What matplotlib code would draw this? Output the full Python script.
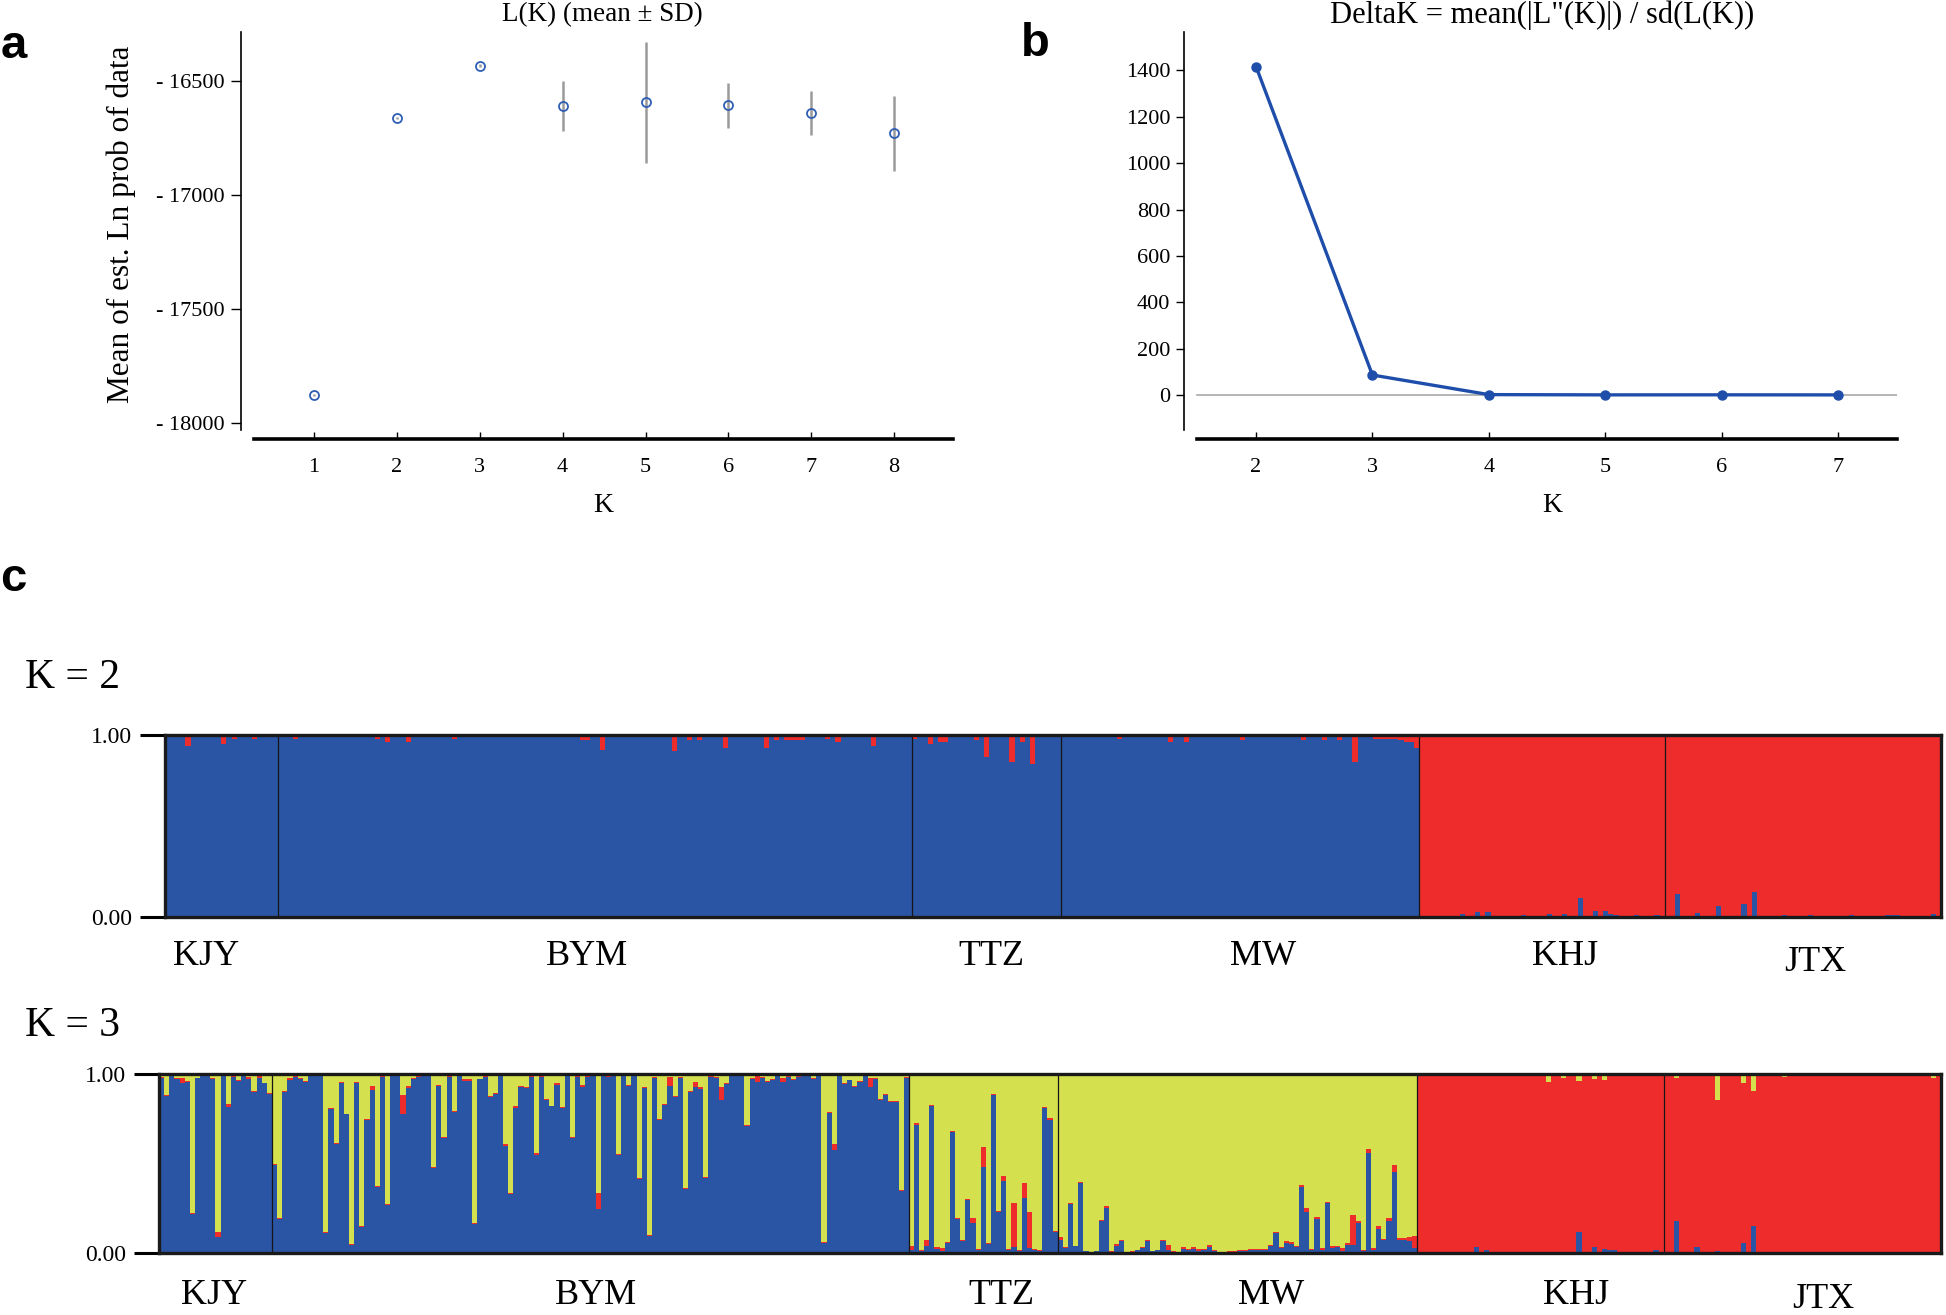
import numpy as np
import matplotlib.pyplot as plt

plt.rcParams['font.family'] = ['Liberation Serif', 'DejaVu Serif']

W, H = 1946, 1315

# ---- panel a: L(K) mean +- SD
k_vals = [1, 2, 3, 4, 5, 6, 7, 8]
lnp_mean = [-17877, -16663, -16434, -16611, -16595, -16608, -16642, -16731]
lnp_sd = [4, 5, 5, 110, 265, 98, 98, 164]

# ---- panel b: DeltaK
dk_k = [2, 3, 4, 5, 6, 7]
dk_vals = [1417, 86, 1.5, 0.4, 0.6, 0.3]

# ---- panel c: STRUCTURE membership (one value per individual)
pops = ['KJY', 'BYM', 'TTZ', 'MW', 'KHJ', 'JTX']

# K = 2, blue cluster share
k2_blue_kjy = [.99, .99, .99, .99, .94, .99, .99, .99, .99, .99, .99, .95, .99, .98, .99, .99, .99, .98, .99, .99, .99, .99]
k2_blue_bym = [.99, .99, .99, .98, .99, .99, .99, .99, .99, .99,
               .99, .99, .99, .99, .99, .99, .99, .99, .99, .98,
               .99, .96, .99, .99, .99, .96, .99, .99, .99, .99,
               .99, .99, .99, .99, .98, .99, .99, .99, .99, .99,
               .99, .99, .99, .99, .99, .99, .99, .99, .99, .99,
               .99, .99, .99, .99, .99, .99, .99, .99, .99, .97,
               .97, .99, .99, .92, .99, .99, .99, .99, .99, .99,
               .99, .99, .99, .99, .99, .99, .99, .91, .99, .99,
               .97, .99, .97, .99, .99, .99, .99, .93, .99, .99,
               .99, .99, .99, .99, .99, .93, .99, .97, .99, .97,
               .97, .97, .97, .99, .99, .99, .99, .98, .99, .96,
               .99, .99, .99, .99, .99, .99, .94, .99, .99, .99,
               .99, .99, .99, .99]
k2_blue_ttz = [.98, .99, .99, .95, .99, .96, .96, .99, .99, .99, .99, .99, .97, .99, .88,
               .99, .99, .99, .99, .85, .99, .96, .99, .84, .99, .99, .99, .99, .99]
k2_blue_mw = [.99, .99, .99, .99, .99, .99, .99, .99, .99, .99,
              .99, .98, .99, .99, .99, .99, .99, .99, .99, .99,
              .99, .96, .99, .99, .96, .99, .99, .99, .99, .99,
              .99, .99, .99, .99, .99, .97, .99, .99, .99, .99,
              .99, .99, .99, .99, .99, .99, .99, .97, .99, .99,
              .99, .97, .99, .99, .97, .99, .99, .85, .99, .99,
              .99, .98, .98, .98, .98, .98, .97, .96, .96, .93]
k2_blue_khj = [.005, .005, .005, .005, .005, .005, .005, .005, .015, .005,
               .005, .028, .005, .025, .005, .005, .005, .005, .005, .005,
               .012, .005, .005, .005, .005, .015, .005, .005, .017, .005,
               .005, .104, .005, .005, .033, .005, .033, .015, .01, .005,
               .005, .005, .01, .005, .005, .005, .012, .005]
k2_blue_jtx = [.005, .005, .126, .005, .005, .005, .024, .005, .005, .005,
               .06, .005, .005, .005, .005, .07, .005, .14, .005, .005,
               .005, .005, .005, .012, .005, .005, .005, .005, .01, .005,
               .005, .005, .005, .005, .005, .005, .01, .005, .005, .005,
               .005, .005, .005, .012, .012, .01, .005, .005, .005, .005,
               .005, .005, .018, .005]

# K = 3, blue and red shares (yellow is the rest)
k3_blue_kjy = [.975, .876, .99, .97, .947, .957, .216, .975, .99, .99, .97, .09, .99, .816, .985,
               .96, .99, .97, .90, .98, .947, .89]
k3_red_kjy = [.01, .005, .005, .005, .03, .005, .005, .005, .01, .005, .01, .03, .005, .015, .005,
              .005, .005, .012, .005, .008, .005, .005]
k3_blue_bym = [.49, .19, .90, .965, .985, .97, .955, .99, .99, .99,
               .113, .805, .608, .95, .775, .045, .95, .145, .745, .91,
               .37, .985, .27, .99, .99, .775, .92, .97, .985, .99,
               .995, .475, .935, .64, .985, .79, .99, .96, .96, .16,
               .97, .985, .87, .89, .99, .60, .33, .81, .93, .92,
               .985, .55, .985, .855, .82, .94, .81, .995, .64, .985,
               .93, .985, .99, .245, .995, .985, .995, .545, .995, .935,
               .995, .415, .92, .095, .98, .745, .825, .935, .87, .98,
               .355, .90, .93, .915, .42, .985, .975, .855, .945, .99,
               .995, .99, .71, .97, .955, .975, .955, .965, .995, .957,
               .985, .965, .985, .99, .99, .97, .99, .055, .78, .575,
               .99, .945, .965, .925, .955, .99, .925, .97, .855, .885,
               .845, .845, .345, .975]
k3_red_bym = [.006, .006, .006, .01, .006, .006, .004, .006, .006, .004,
              .006, .006, .006, .008, .004, .006, .004, .008, .004, .022,
              .006, .01, .006, .004, .004, .11, .015, .006, .006, .008,
              .006, .006, .004, .006, .006, .004, .006, .01, .012, .006,
              .004, .006, .008, .006, .004, .008, .006, .01, .004, .008,
              .006, .006, .004, .008, .004, .008, .006, .01, .006, .006,
              .006, .006, .004, .09, .006, .006, .004, .006, .004, .004,
              .006, .004, .006, .006, .006, .004, .008, .05, .006, .006,
              .008, .006, .025, .012, .004, .006, .008, .07, .004, .006,
              .006, .004, .006, .006, .035, .01, .008, .006, .006, .02,
              .006, .008, .015, .006, .004, .006, .006, .006, .006, .035,
              .006, .006, .004, .006, .006, .006, .05, .006, .006, .006,
              .006, .004, .006, .006]
k3_blue_ttz = [.015, .715, .01, .04, .82, .02, .01, .055, .675, .19, .065, .295, .165, .015, .48,
               .05, .88, .23, .40, .015, .035, .013, .31, .03, .015, .01, .81, .745, .115]
k3_red_ttz = [.025, .012, .005, .03, .008, .015, .02, .008, .006, .006, .008, .006, .033, .01, .11,
              .006, .01, .006, .03, .006, .245, .006, .08, .2, .01, .005, .008, .008, .008]
k3_blue_mw = [.075, .028, .275, .037, .39, .01, .004, .01, .18, .25,
              .005, .04, .065, .005, .008, .015, .028, .065, .01, .015,
              .065, .018, .005, .005, .025, .015, .025, .01, .015, .035,
              .01, .005, .005, .008, .008, .012, .012, .015, .015, .015,
              .015, .037, .11, .028, .055, .05, .035, .37, .23, .018,
              .19, .018, .28, .028, .033, .012, .045, .045, .17, .012,
              .56, .018, .135, .07, .18, .455, .075, .075, .065, .028]
k3_red_mw = [.015, .004, .006, .004, .006, .003, .003, .003, .006, .015,
             .005, .01, .006, .003, .003, .004, .006, .006, .003, .004,
             .006, .028, .005, .003, .008, .006, .006, .01, .01, .01,
             .004, .003, .003, .004, .004, .006, .005, .005, .005, .005,
             .005, .006, .01, .005, .01, .01, .006, .01, .02, .005,
             .01, .01, .005, .01, .008, .015, .01, .17, .006, .005,
             .02, .012, .015, .006, .015, .037, .01, .01, .022, .065]
k3_blue_khj = [.004, .004, .004, .004, .004, .004, .004, .006, .008, .004,
               .004, .033, .004, .018, .004, .004, .004, .004, .006, .004,
               .006, .004, .004, .004, .004, .008, .004, .006, .004, .006,
               .004, .12, .004, .006, .033, .004, .024, .018, .018, .004,
               .004, .004, .006, .004, .004, .004, .018, .006]
k3_red_khj = [.992, .992, .99, .992, .99, .992, .992, .99, .988, .992,
              .99, .961, .99, .976, .992, .99, .99, .992, .99, .99,
              .988, .99, .992, .99, .992, .947, .99, .988, .974, .988,
              .99, .84, .99, .988, .94, .99, .941, .976, .976, .99,
              .992, .99, .988, .99, .99, .99, .976, .988]
k3_blue_jtx = [.004, .004, .178, .004, .004, .004, .034, .004, .004, .004,
               .01, .004, .004, .004, .004, .056, .004, .15, .004, .004,
               .004, .004, .004, .008, .004, .004, .004, .004, .006, .004,
               .004, .008, .004, .004, .004, .008, .004, .004, .004, .004,
               .004, .004, .008, .008, .006, .006, .004, .004, .004, .004,
               .004, .004, .008, .004]
k3_red_jtx = [.991, .991, .797, .991, .991, .991, .961, .984, .991, .991,
              .845, .991, .991, .991, .991, .894, .991, .755, .991, .991,
              .991, .991, .991, .977, .991, .991, .991, .991, .989, .991,
              .991, .982, .991, .991, .991, .982, .991, .991, .991, .991,
              .991, .991, .982, .987, .989, .986, .991, .991, .991, .991,
              .991, .991, .972, .991]

c_blue = '#2a55a5'
c_red = '#ee2c2c'
c_yel = '#d5e04e'

fig = plt.figure(figsize=(W / 100, H / 100), dpi=100)


def px_axes(x0, y0, x1, y1):
    return fig.add_axes([x0 / W, 1 - y1 / H, (x1 - x0) / W, (y1 - y0) / H])


def fig_text(x, y, s, **kw):
    fig.text(x / W, 1 - y / H, s, **kw)


# panel a
ax = px_axes(241, 32, 953, 439)
ax.errorbar(k_vals, lnp_mean, yerr=lnp_sd, fmt='o', mfc='none', mec='#2f5fb5', ms=6.5, mew=1.3,
            ecolor='#9a9a9a', elinewidth=1.8, capsize=0, zorder=3)
ax.set_xlim(0.119, 8.71)
ax.set_ylim(-18070, -16287)
ax.spines['top'].set_visible(False)
ax.spines['right'].set_visible(False)
ax.spines['left'].set_linewidth(1.2)
ax.spines['left'].set_bounds(-18030, -16287)
ax.spines['bottom'].set_linewidth(2.6)
ax.spines['bottom'].set_bounds(0.276, 8.71)
ax.set_xticks(k_vals)
ax.set_yticks([-16500, -17000, -17500, -18000])
ax.set_yticklabels(['- 16500', '- 17000', '- 17500', '- 18000'])
ax.tick_params(axis='y', direction='out', length=7, width=1, pad=5, labelsize=16)
ax.tick_params(axis='x', direction='in', length=5, width=1, pad=14, labelsize=16)
fig_text(602, 15, 'L(K) (mean ± SD)', ha='center', va='center', fontsize=19.5)
fig_text(121, 224, 'Mean of est. Ln prob of data', ha='center', va='center', rotation=90, fontsize=22.5)
fig_text(603, 505, 'K', ha='center', va='center', fontsize=20)

# panel b
ax = px_axes(1184, 32, 1897, 439)
ax.axhline(0, xmin=(1.493 - 1.381) / (7.507 - 1.381), xmax=1, color='#a8a8a8', lw=1.2, zorder=1)
ax.plot(dk_k, dk_vals, '-o', color='#1f4eaa', lw=2.4, ms=6.5, zorder=3)
ax.set_xlim(1.381, 7.507)
ax.set_ylim(-190, 1566)
ax.spines['top'].set_visible(False)
ax.spines['right'].set_visible(False)
ax.spines['left'].set_linewidth(1.2)
ax.spines['left'].set_bounds(-151, 1566)
ax.spines['bottom'].set_linewidth(2.6)
ax.spines['bottom'].set_bounds(1.493, 7.507)
ax.set_xticks(dk_k)
ax.set_yticks(range(0, 1401, 200))
ax.tick_params(axis='y', direction='out', length=6, width=1, pad=4, labelsize=16)
ax.tick_params(axis='x', direction='in', length=5, width=1, pad=14, labelsize=16)
fig_text(1542, 15, 'DeltaK = mean(|L"(K)|) / sd(L(K))', ha='center', va='center', fontsize=22)
fig_text(1552, 505, 'K', ha='center', va='center', fontsize=20)

# panel letters
for s, x, y in [('a', 14, 46), ('b', 1035, 44), ('c', 13, 579)]:
    fig_text(x, y, s, ha='center', va='center', fontsize=34, fontweight='bold',
             family=['Liberation Sans', 'DejaVu Sans'])


def structure(box, layers, label_x, label_y, jtx_dy):
    ax = px_axes(*box)
    n = len(layers[0][0])
    x = np.arange(n)
    bottom = np.zeros(n)
    for vals, col in layers:
        ax.bar(x, vals, width=1.0, bottom=bottom, align='edge', color=col, lw=0, antialiased=False)
        bottom = bottom + vals
    ax.set_xlim(0, n)
    ax.set_ylim(0, 1)
    for b in np.cumsum(counts)[:-1]:
        ax.axvline(b, color='#151515', lw=0.9)
    for sp in ax.spines.values():
        sp.set_linewidth(2.4)
        sp.set_color('#1a1a1a')
    ax.set_xticks([])
    ax.set_yticks([0, 1])
    ax.set_yticklabels(['0.00', '1.00'])
    ax.tick_params(axis='y', direction='out', length=18, width=2.2, pad=6, labelsize=17)
    for name, lx in zip(pops, label_x):
        dy = jtx_dy if name == 'JTX' else 0
        ax.text(lx, label_y + dy, name, transform=ax.get_xaxis_transform(),
                ha='center', va='center', fontsize=26)
    return ax


counts = [len(k2_blue_kjy), len(k2_blue_bym), len(k2_blue_ttz), len(k2_blue_mw),
          len(k2_blue_khj), len(k2_blue_jtx)]

k2_blue = np.concatenate([k2_blue_kjy, k2_blue_bym, k2_blue_ttz, k2_blue_mw, k2_blue_khj, k2_blue_jtx])
k2_red = 1 - k2_blue
structure((165, 735, 1941, 917), [(k2_blue, c_blue), (k2_red, c_red)],
          [8.0, 82.5, 161.5, 214.5, 273.5, 322.5], -0.215, -0.035)
fig_text(25, 678, 'K = 2', ha='left', va='center', fontsize=30)

k3_blue = np.concatenate([k3_blue_kjy, k3_blue_bym, k3_blue_ttz, k3_blue_mw, k3_blue_khj, k3_blue_jtx])
k3_red = np.concatenate([k3_red_kjy, k3_red_bym, k3_red_ttz, k3_red_mw, k3_red_khj, k3_red_jtx])
k3_yel = np.clip(1 - k3_blue - k3_red, 0, None)
structure((159, 1074, 1941, 1253), [(k3_blue, c_blue), (k3_red, c_red), (k3_yel, c_yel)],
          [10.7, 85, 164, 216.5, 276, 324], -0.235, -0.022)
fig_text(25, 1026, 'K = 3', ha='left', va='center', fontsize=30)

fig.savefig('out.png', dpi=100)
